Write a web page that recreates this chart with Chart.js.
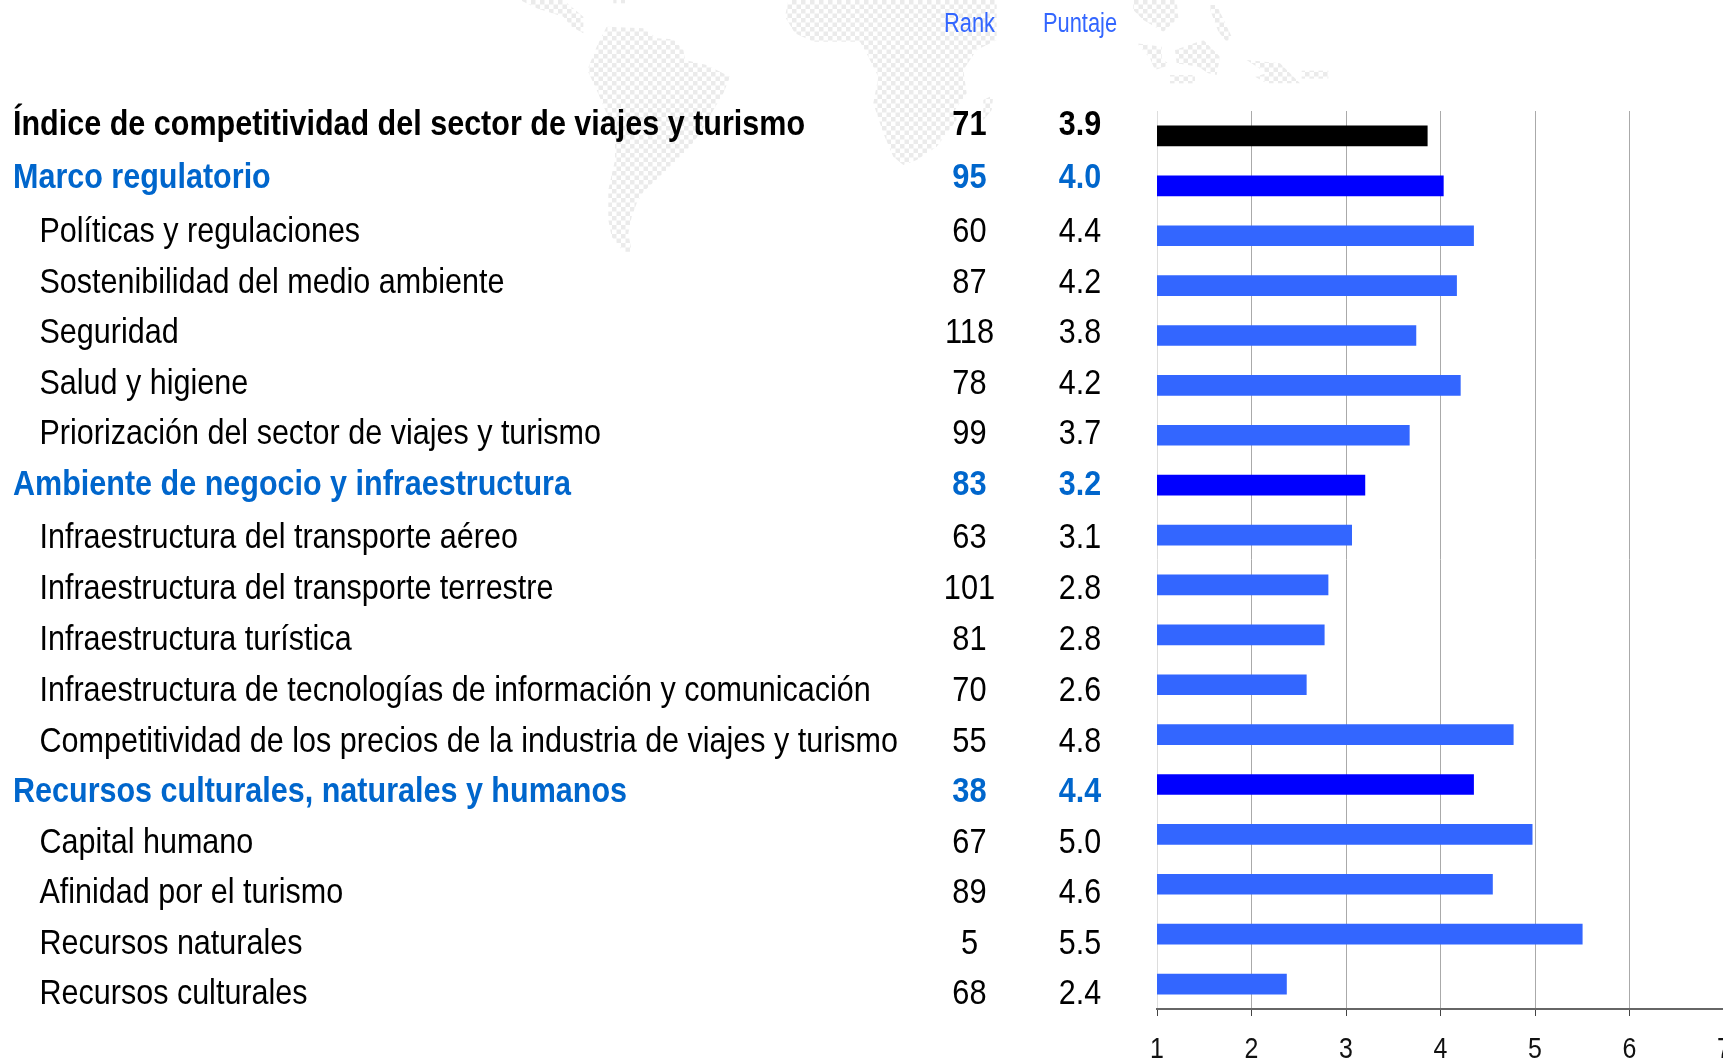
<!DOCTYPE html>
<html><head><meta charset="utf-8">
<style>html,body{margin:0;padding:0;background:#fff;overflow:hidden;width:1723px;height:1058px}canvas{display:block}</style>
<script src="https://cdn.jsdelivr.net/npm/chart.js@4"></script></head>
<body><div style="width:1760px;height:1058px"><canvas id="c" width="1760" height="1058"></canvas></div>
<script>
const categories=["Índice de competitividad del sector de viajes y turismo","Marco regulatorio","Políticas y regulaciones","Sostenibilidad del medio ambiente","Seguridad","Salud y higiene","Priorización del sector de viajes y turismo","Ambiente de negocio y infraestructura","Infraestructura del transporte aéreo","Infraestructura del transporte terrestre","Infraestructura turística","Infraestructura de tecnologías de información y comunicación","Competitividad de los precios de la industria de viajes y turismo","Recursos culturales, naturales y humanos","Capital humano","Afinidad por el turismo","Recursos naturales","Recursos culturales"];
const ranks=[71,95,60,87,118,78,99,83,63,101,81,70,55,38,67,89,5,68];
const scoreLabels=["3.9","4.0","4.4","4.2","3.8","4.2","3.7","3.2","3.1","2.8","2.8","2.6","4.8","4.4","5.0","4.6","5.5","2.4"];
const barValues=[3.86,4.03,4.35,4.17,3.74,4.21,3.67,3.2,3.06,2.81,2.77,2.58,4.77,4.35,4.97,4.55,5.5,2.37];
const levels=[0,1,2,2,2,2,2,1,2,2,2,2,2,1,2,2,2,2];
const columnHeaders=["Rank","Puntaje"];
const xTicks=[1,2,3,4,5,6,7];
const textNudge=[-10.8,-7.8,-3.2,-1.8,-1.7,-1.3,-0.7,0.3,3.4,4.3,5.3,6.4,7.4,7.4,9.3,9.4,10.5,10.4];

const FAM='"Liberation Sans",Arial,sans-serif';
const barColors=levels.map(l=>l===0?'#000000':l===1?'#0000ff':'#3366ff');
const textColors=levels.map(l=>l===1?'#0066cc':'#000000');

const mapShapes=[
 {o:[500,0],p:[[320,80],[430,85],[470,115],[520,118],[550,150],[555,180],[620,195],[690,230],[670,280],[640,330],[600,400],[570,440],[520,490],[490,520],[430,575],[410,610],[395,650],[385,700],[395,755],[370,755],[335,710],[325,660],[325,570],[345,480],[345,400],[290,270],[262,210],[290,140]]},
 {o:[500,0],p:[[60,0],[190,0],[250,50],[250,100],[215,80],[190,50],[110,25]]},
 {o:[500,0],p:[[340,0],[375,0],[375,10],[340,10]]},
 {o:[770,0],p:[[55,0],[680,0],[680,120],[620,150],[580,210],[590,280],[555,330],[560,360],[500,440],[440,480],[400,495],[370,470],[340,400],[310,310],[325,230],[295,170],[270,125],[130,125],[75,100],[45,50]]},
 {o:[770,0],p:[[640,300],[670,285],[665,330],[640,360]]},
 {o:[1120,0],p:[[40,0],[170,0],[175,55],[130,95],[70,60],[40,30]]},
 {o:[1120,0],p:[[50,130],[125,140],[125,175],[150,195],[105,210],[90,175]]},
 {o:[1120,0],p:[[165,150],[250,120],[300,170],[290,225],[265,220],[235,200],[170,190]]},
 {o:[1120,0],p:[[265,15],[290,15],[335,110],[320,125],[295,95]]},
 {o:[1120,0],p:[[380,180],[480,190],[540,250],[440,250],[405,230],[440,220]]},
 {o:[1120,0],p:[[150,225],[225,225],[225,250],[150,250]]},
 {o:[1120,0],p:[[545,212],[625,212],[625,236],[545,236]]}
];
function squeezed(ctx,str,x,y,align,sx){
  ctx.save();ctx.translate(x,y);ctx.scale(sx,1);ctx.textAlign=align;ctx.fillText(str,0,0);ctx.restore();
}
const background={id:'background',beforeDraw(chart){
  const ctx=chart.ctx,t=document.createElement('canvas');t.width=t.height=9;
  const g=t.getContext('2d');g.fillStyle='#ebebeb';g.fillRect(0,0,4.5,4.5);g.fillRect(4.5,4.5,4.5,4.5);
  ctx.save();ctx.fillStyle=ctx.createPattern(t,'repeat');
  mapShapes.forEach(s=>{ctx.beginPath();s.p.forEach((q,i)=>{const x=s.o[0]+q[0]/3,y=s.o[1]+q[1]/3;i?ctx.lineTo(x,y):ctx.moveTo(x,y)});ctx.closePath();ctx.fill()});
  ctx.restore();
}};
const table={id:'table',afterDraw(chart){
  const ctx=chart.ctx,y=chart.scales.y;
  ctx.save();ctx.textBaseline='middle';
  const size=35;
  categories.forEach((c,i)=>{
    const py=y.getPixelForValue(i)+textNudge[i],bold=levels[i]<2;
    ctx.font=(bold?'bold ':'')+size+'px '+FAM;ctx.fillStyle=textColors[i];
    squeezed(ctx,c,levels[i]===2?39.5:13,py,'left',0.872);
    squeezed(ctx,String(ranks[i]),969.5,py,'center',0.88);
    squeezed(ctx,scoreLabels[i],1080,py,'center',0.87);
  });
  ctx.font='27px '+FAM;ctx.fillStyle='#3366ff';
  squeezed(ctx,columnHeaders[0],969.5,25,'center',0.81);
  squeezed(ctx,columnHeaders[1],1080,25,'center',0.81);
  ctx.restore();
}};
function drawCondensedTicks(){
  const ctx=this.ctx;
  ctx.save();ctx.font='29px '+FAM;ctx.fillStyle='#111111';ctx.textBaseline='middle';
  this.ticks.forEach((t,i)=>squeezed(ctx,t.label,this.getPixelForTick(i),this.top+41,'center',0.86));
  ctx.restore();
}
new Chart(document.getElementById('c'),{type:'bar',
 data:{labels:categories,datasets:[{data:barValues,backgroundColor:barColors,barThickness:20,borderWidth:0}]},
 plugins:[background,table],
 options:{indexAxis:'y',responsive:false,animation:false,
  layout:{padding:{left:1157,right:36,top:111,bottom:0}},
  plugins:{legend:{display:false},tooltip:{enabled:false}},
  scales:{
   y:{type:'category',display:false,offset:true},
   x:{type:'linear',min:1,max:7,afterBuildTicks(a){a.ticks=xTicks.map(v=>({value:v}))},
      afterFit(a){a.height=49;a.drawLabels=drawCondensedTicks},
      border:{display:true,color:'#666666',width:2},
      grid:{color:c=>c.index===0?'#dddddd':'#aaaaaa',lineWidth:1,tickColor:'#444444',tickLength:7,drawTicks:true},
      ticks:{color:'#111111',font:{family:FAM,size:25},padding:4,maxRotation:0,autoSkip:false,callback:v=>String(v)}}
  }}});
</script></body></html>
